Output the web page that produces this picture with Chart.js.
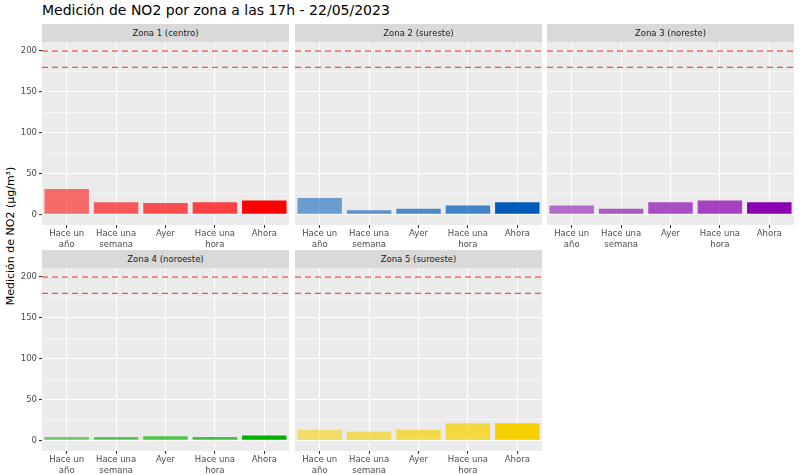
<!DOCTYPE html>
<html lang="es">
<head>
<meta charset="UTF-8">
<script src="https://cdn.jsdelivr.net/npm/chart.js"></script>
<style>
  body { margin: 0; width: 800px; height: 475px; background: #fff; font-family: "DejaVu Sans", sans-serif; position: relative; overflow: hidden; }
  .title { position: absolute; left: 42px; top: 2px; font-size: 14px; color: #000; }
  .ylab { position: absolute; left: 2px; top: 236px; font-size: 11px; color: #000; transform: translate(-50%, -50%) rotate(-90deg); transform-origin: center; margin-left: 8px; white-space: nowrap; }
  .strip { position: absolute; height: 18px; background: #D9D9D9; color: #1A1A1A; font-size: 8.5px; text-align: center; line-height: 18px; z-index: 2; }
  .panel { position: absolute; }
</style>
</head>
<body>
<div class="title">Medición de NO2 por zona a las 17h - 22/05/2023</div>
<div class="ylab">Medición de NO2 (µg/m³)</div>
<script>
const categories = [['Hace un', 'año'], ['Hace una', 'semana'], 'Ayer', ['Hace una', 'hora'], 'Ahora'];
const zoneNames = ['Zona 1 (centro)', 'Zona 2 (sureste)', 'Zona 3 (noreste)', 'Zona 4 (noroeste)', 'Zona 5 (suroeste)'];
const zona1 = [31, 15, 14, 15, 17];
const zona2 = [20, 5, 7, 11, 15];
const zona3 = [11, 7, 15, 17, 15];
const zona4 = [4, 4, 5, 4, 6];
const zona5 = [13, 11, 13, 21, 21];
const zoneColors = ['255,0,0', '0,91,187', '139,0,176', '0,176,0', '245,208,0'];
const alphas = [0.55, 0.62, 0.68, 0.72, 1];
const limits = [200, 180];
const limitColors = ['#E8231B', '#F2553A'];

const allData = [zona1, zona2, zona3, zona4, zona5];
const colX = [42, 295, 547];
const rowY = [24, 250];
const plotW = 247;
const padTop = 8;

const bgPlugin = {
  id: 'bg',
  beforeDraw(chart) {
    const a = chart.chartArea, ctx = chart.ctx;
    ctx.save();
    ctx.fillStyle = '#EBEBEB';
    ctx.fillRect(a.left, a.top, a.right - a.left, a.bottom - a.top);
    ctx.restore();
  },
  afterDatasetsDraw(chart) {
    const a = chart.chartArea, ctx = chart.ctx, y = chart.scales.y;
    ctx.save();
    ctx.setLineDash([6, 4]);
    ctx.lineWidth = 1.2;
    limits.forEach((v, i) => {
      ctx.strokeStyle = limitColors[i];
      const py = y.getPixelForValue(v);
      ctx.beginPath();
      ctx.moveTo(a.left, py);
      ctx.lineTo(a.right, py);
      ctx.stroke();
    });
    ctx.restore();
  }
};

allData.forEach((values, i) => {
  const col = i % 3, row = Math.floor(i / 3);
  const left = col === 0;
  const strip = document.createElement('div');
  strip.className = 'strip';
  strip.style.left = colX[col] + 'px';
  strip.style.top = rowY[row] + 'px';
  strip.style.width = plotW + 'px';
  strip.textContent = zoneNames[i];
  document.body.appendChild(strip);

  const wrap = document.createElement('div');
  wrap.className = 'panel';
  const axisW = left ? 26 : 0;
  wrap.style.left = (colX[col] - axisW) + 'px';
  wrap.style.top = (rowY[row] + 18 - padTop) + 'px';
  wrap.style.width = (plotW + axisW) + 'px';
  wrap.style.height = (209 + padTop) + 'px';
  const canvas = document.createElement('canvas');
  wrap.appendChild(canvas);
  document.body.appendChild(wrap);

  new Chart(canvas, {
    type: 'bar',
    data: {
      labels: categories,
      datasets: [{
        data: values,
        backgroundColor: alphas.map(a => 'rgba(' + zoneColors[i] + ',' + a + ')'),
        barPercentage: 0.9,
        categoryPercentage: 1
      }]
    },
    options: {
      responsive: true,
      maintainAspectRatio: false,
      animation: false,
      layout: { padding: { top: padTop, bottom: 0, left: 0, right: 0 } },
      plugins: { legend: { display: false }, tooltip: { enabled: false } },
      scales: {
        x: {
          grid: { color: '#FFFFFF', offset: false, drawTicks: true, tickLength: 3, tickColor: '#333' },
          border: { display: false },
          ticks: { color: '#4D4D4D', font: { size: 8.5, family: 'DejaVu Sans' }, padding: 1, maxRotation: 0, autoSkip: false },
          afterFit: s => { s.height = 26; }
        },
        y: {
          min: -13, max: 211,
          afterBuildTicks: s => { s.ticks = [0, 25, 50, 75, 100, 125, 150, 175, 200].map(v => ({ value: v })); },
          grid: {
            color: '#FFFFFF',
            lineWidth: c => (c.tick && c.tick.value % 50 === 0) ? 1.1 : 0.5,
            drawTicks: left, tickLength: 3,
            tickColor: c => (c.tick && c.tick.value % 50 === 0) ? '#333' : 'rgba(0,0,0,0)'
          },
          border: { display: false },
          ticks: {
            display: left,
            color: '#4D4D4D',
            font: { size: 8.5, family: 'DejaVu Sans' },
            padding: 2,
            callback: v => v % 50 === 0 ? v : ''
          },
          afterFit: s => { s.width = axisW; }
        }
      }
    },
    plugins: [bgPlugin]
  });
});
</script>
</body>
</html>
